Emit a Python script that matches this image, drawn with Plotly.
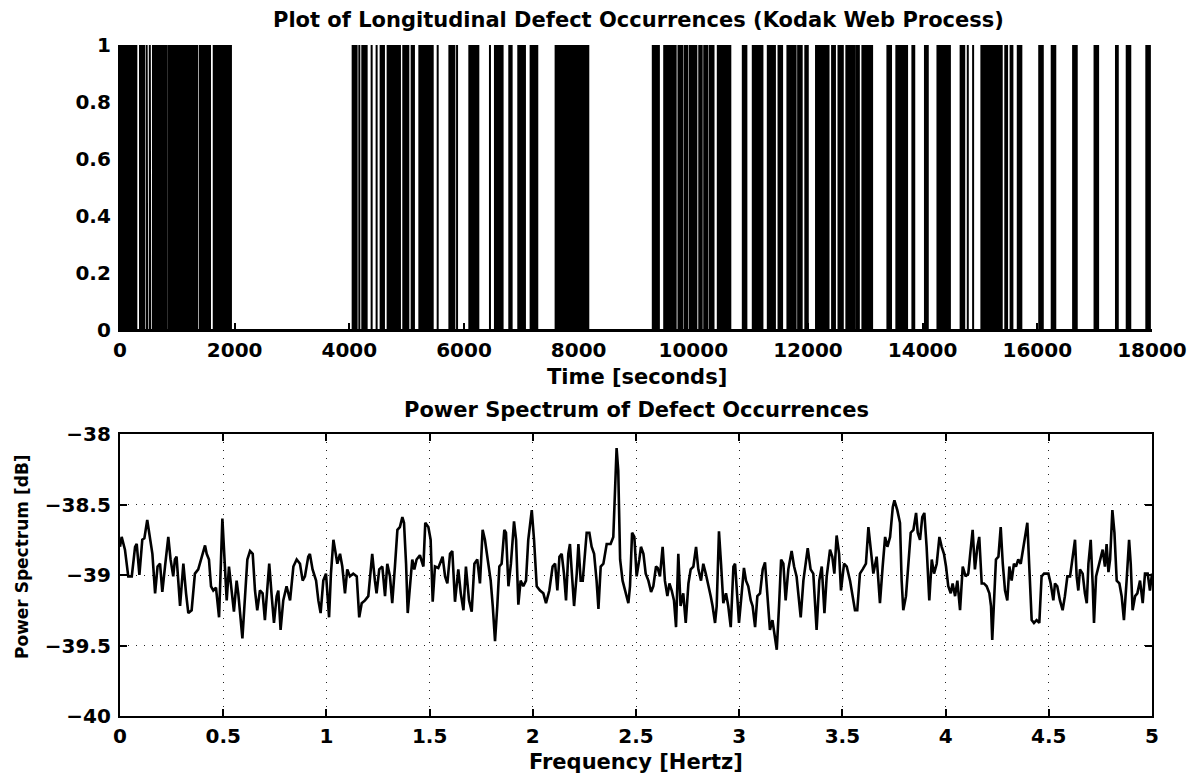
import plotly.graph_objects as go

# ---------------- data: defect occurrence intervals (seconds) ----------------
defect_start = [0, 349, 465, 520, 575, 665, 843, 1025, 1279, 1395, 1635,
                4058, 4127, 4174, 4226, 4389, 4476, 4546, 4668, 4860, 4941, 5087, 5221, 5384, 5541,
                5745, 5879, 6093, 6453, 6540, 6627, 6790, 6947, 7162, 7598, 7700, 7779,
                9293, 9492, 9648, 9741, 9847, 9941, 10009, 10103, 10190, 10283, 10427, 10539,
                10863, 11037, 11143, 11299, 11486, 11641, 11828, 11953, 12140, 12420, 12532,
                12669, 12762, 12843, 12949, 13043, 13385, 13541, 13821, 14040, 14258, 14351,
                14662, 14787, 14880, 15024, 15441, 15534, 15659, 16033, 16251, 16624, 16998,
                17372, 17559, 17901]
defect_end = [285, 420, 475, 528, 640, 805, 1005, 1250, 1349, 1570, 1935,
              4099, 4127, 4174, 4302, 4389, 4476, 4604, 4825, 4883, 5029, 5127, 5355, 5454, 5541,
              5832, 5879, 6250, 6453, 6598, 6673, 6831, 7063, 7278, 7680, 7744, 8168,
              9399, 9617, 9692, 9804, 9897, 9978, 10053, 10146, 10240, 10352, 10520, 10645,
              10925, 11112, 11205, 11423, 11548, 11784, 11890, 11996, 12358, 12470, 12607,
              12731, 12806, 12887, 13012, 13118, 13448, 13728, 13853, 14089, 14320, 14475,
              14725, 14787, 14880, 15379, 15472, 15565, 15721, 16095, 16313, 16687, 17060,
              17403, 17621, 17963]
time_ticks = [0, 2000, 4000, 6000, 8000, 10000, 12000, 14000, 16000, 18000]
occ_ticks = [0, 0.2, 0.4, 0.6, 0.8, 1]
occ_ticktext = ["0", "0.2", "0.4", "0.6", "0.8", "1"]

# ---------------- data: power spectrum ----------------
freq_hz = [0.0, 0.008, 0.024, 0.040, 0.057, 0.073, 0.081, 0.094, 0.108, 0.118, 0.132, 0.145, 0.157,
           0.170, 0.182, 0.194, 0.205, 0.218, 0.234, 0.245, 0.258, 0.266, 0.274, 0.291, 0.307,
           0.320, 0.331, 0.347, 0.363, 0.379, 0.396, 0.412, 0.420, 0.431, 0.441, 0.452, 0.465,
           0.480, 0.496, 0.505, 0.517, 0.528, 0.541, 0.552, 0.565, 0.573, 0.593, 0.606, 0.617,
           0.630, 0.643, 0.654, 0.665, 0.678, 0.691, 0.702, 0.711, 0.723, 0.735, 0.746, 0.759,
           0.767, 0.778, 0.791, 0.807, 0.824, 0.840, 0.856, 0.872, 0.885, 0.896, 0.912, 0.920,
           0.933, 0.950, 0.961, 0.972, 0.985, 0.998, 1.013, 1.022, 1.034, 1.042, 1.053, 1.066,
           1.077, 1.090, 1.101, 1.114, 1.130, 1.147, 1.159, 1.171, 1.187, 1.203, 1.214, 1.222,
           1.235, 1.243, 1.256, 1.271, 1.284, 1.295, 1.308, 1.319, 1.332, 1.344, 1.356, 1.368,
           1.376, 1.386, 1.394, 1.405, 1.416, 1.426, 1.437, 1.453, 1.470, 1.479, 1.494, 1.505,
           1.515, 1.526, 1.542,
           1.563, 1.575, 1.586, 1.599, 1.610, 1.623, 1.639, 1.651, 1.664, 1.676, 1.691, 1.704,
           1.717, 1.731, 1.744, 1.757, 1.768, 1.785, 1.796, 1.806, 1.817, 1.828, 1.838, 1.849,
           1.862, 1.870, 1.882, 1.894, 1.909, 1.919, 1.930, 1.941, 1.954, 1.967, 1.978, 1.995,
           2.006, 2.019, 2.035, 2.051, 2.064, 2.080, 2.096, 2.108, 2.119, 2.129, 2.140, 2.151,
           2.161, 2.172, 2.180, 2.188, 2.200, 2.213, 2.221, 2.232, 2.242, 2.261, 2.274, 2.285,
           2.297, 2.309, 2.318, 2.329, 2.342, 2.358, 2.377, 2.390, 2.398, 2.406, 2.414, 2.423,
           2.435, 2.452, 2.463, 2.471, 2.481, 2.492, 2.503, 2.516, 2.524, 2.536, 2.547, 2.560,
           2.573, 2.584, 2.597, 2.605, 2.616, 2.629, 2.640, 2.652, 2.662, 2.673, 2.684, 2.694,
           2.705, 2.716, 2.729, 2.741, 2.754, 2.765, 2.778, 2.791, 2.802, 2.815, 2.826, 2.838,
           2.850, 2.862, 2.871, 2.883, 2.891, 2.902, 2.912, 2.923, 2.936, 2.947, 2.959, 2.972,
           2.980, 2.991, 2.999, 3.012, 3.023, 3.033, 3.044, 3.056, 3.065, 3.077, 3.088, 3.101,
           3.114, 3.125, 3.136, 3.149, 3.161, 3.170, 3.182, 3.193, 3.203, 3.214, 3.225, 3.238,
           3.254, 3.266, 3.278,
           3.298, 3.311, 3.332, 3.346, 3.359, 3.375, 3.388, 3.400, 3.413, 3.424, 3.440, 3.451,
           3.461, 3.472, 3.484, 3.493, 3.508, 3.521, 3.537, 3.550, 3.561, 3.572, 3.585, 3.598,
           3.614, 3.626, 3.637, 3.650, 3.666, 3.682, 3.695, 3.707, 3.718, 3.731, 3.744, 3.752,
           3.766, 3.779, 3.787, 3.795, 3.808, 3.819, 3.831, 3.844, 3.857, 3.865, 3.876, 3.887,
           3.897, 3.908, 3.921, 3.933, 3.944, 3.957, 3.970, 3.981, 3.992, 4.002, 4.013, 4.025,
           4.034, 4.046, 4.057, 4.070, 4.083, 4.097, 4.110, 4.118, 4.131, 4.142, 4.154, 4.163,
           4.175, 4.186, 4.199, 4.212, 4.220, 4.226, 4.234, 4.244, 4.256, 4.267, 4.277, 4.288,
           4.299, 4.309, 4.320, 4.331, 4.341, 4.352, 4.364, 4.377, 4.388, 4.396, 4.406, 4.417,
           4.428, 4.441, 4.454, 4.465, 4.477, 4.487, 4.498, 4.509, 4.522, 4.530, 4.541, 4.554,
           4.567, 4.578, 4.590, 4.603, 4.616, 4.627, 4.635, 4.643, 4.651, 4.664, 4.675, 4.684,
           4.692, 4.703, 4.713, 4.719, 4.729, 4.740, 4.751, 4.761, 4.772, 4.780, 4.789, 4.797,
           4.808, 4.818, 4.829, 4.842, 4.853, 4.864, 4.877, 4.889, 4.897, 4.906, 4.918, 4.929,
           4.942, 4.955, 4.966, 4.979, 4.990, 5.0]
power_db = [-38.80, -38.73, -38.82, -39.01, -39.01, -38.80, -38.78, -39.00, -38.75, -38.74, -38.61, -38.73, -38.85,
            -39.13, -38.94, -38.92, -39.12, -38.94, -38.73, -38.89, -39.01, -38.89, -38.87, -39.22, -38.92,
            -39.13, -39.27, -39.25, -38.99, -38.96, -38.87, -38.79, -38.85, -38.89, -39.08, -39.11, -39.09,
            -39.30, -38.60, -38.85, -39.18, -38.94, -39.11, -39.26, -39.04, -39.13, -39.45, -39.13, -38.89,
            -38.83, -38.85, -39.11, -39.25, -39.11, -39.13, -39.32, -39.13, -38.92, -39.15, -39.34, -39.15,
            -39.11, -39.39, -39.18, -39.08, -39.18, -38.94, -38.89, -38.92, -39.04, -39.01, -38.87, -38.85,
            -38.96, -39.04, -39.18, -39.27, -39.04, -38.99, -39.30, -38.99, -38.75, -38.82, -38.92, -38.85,
            -38.94, -39.13, -38.96, -39.01, -38.99, -39.01, -39.30, -39.20, -39.18, -39.15, -38.99, -38.85,
            -39.04, -39.13, -38.96, -38.94, -39.15, -38.92, -39.01, -39.20, -38.94, -38.68, -38.66, -38.59,
            -38.63, -38.92, -39.27, -39.08, -38.89, -38.96, -38.89, -38.86, -38.94, -38.63, -38.66, -38.75,
            -39.19, -38.94, -38.95,
            -38.87, -39.01, -39.06, -38.85, -38.83, -39.19, -38.96, -39.13, -39.25, -38.94, -39.18, -39.26,
            -38.92, -38.89, -39.06, -38.68, -38.75, -38.92, -39.04, -39.22, -39.47, -39.22, -38.94, -38.92,
            -38.68, -38.70, -39.08, -38.92, -38.62, -38.75, -39.21, -39.04, -39.08, -39.04, -38.75, -38.54,
            -38.75, -39.08, -39.11, -39.13, -39.20, -39.11, -38.94, -38.92, -39.11, -38.87, -38.85, -38.99,
            -39.18, -38.85, -38.78, -38.96, -39.22, -38.99, -38.78, -39.04, -39.04, -38.70, -38.70, -38.80,
            -38.85, -39.04, -39.24, -38.94, -38.92, -38.78, -38.78, -38.73, -38.44, -38.10, -38.26, -38.89,
            -39.04, -39.15, -39.20, -39.08, -38.70, -38.73, -39.01, -38.89, -38.80, -38.85, -38.99, -39.04,
            -39.12, -39.08, -38.94, -38.95, -39.01, -38.80, -39.04, -39.15, -39.06, -39.11, -39.18, -39.37,
            -38.85, -39.22, -39.13, -39.34, -39.06, -38.96, -38.94, -38.80, -38.96, -39.04, -38.92, -38.99,
            -39.06, -39.15, -39.22, -39.34, -39.22, -38.69, -38.92, -39.20, -39.13, -39.22, -39.37, -38.94,
            -38.92, -39.22, -39.34, -39.13, -38.95, -39.04, -39.08, -39.18, -39.22, -39.37, -39.15, -39.13,
            -38.96, -38.91, -39.13, -39.39, -39.32, -39.41, -39.53, -39.22, -38.89, -38.92, -39.18, -38.96,
            -38.83, -38.94, -39.01,
            -39.30, -39.04, -38.81, -38.96, -38.99, -39.39, -39.04, -38.94, -39.27, -39.01, -38.82, -38.87,
            -38.99, -38.72, -38.85, -39.11, -38.92, -38.94, -39.04, -39.15, -39.25, -39.25, -38.99, -38.96,
            -38.92, -38.66, -38.80, -38.99, -38.87, -39.20, -38.94, -38.73, -38.80, -38.73, -38.52, -38.47,
            -38.54, -38.63, -39.04, -39.25, -39.15, -38.92, -38.70, -38.68, -38.56, -38.70, -38.75, -38.59,
            -38.56, -38.80, -39.18, -38.89, -38.99, -38.92, -38.73, -38.80, -38.85, -38.94, -39.08, -39.13,
            -39.06, -39.15, -39.04, -39.25, -38.94, -39.01, -38.99, -38.87, -38.68, -38.96, -38.80, -38.73,
            -39.06, -39.06, -39.08, -39.13, -39.22, -39.46, -39.18, -38.89, -38.87, -38.66, -38.92, -39.11,
            -39.18, -38.94, -39.04, -38.92, -38.94, -38.89, -38.92, -38.80, -38.70, -38.63, -38.96, -39.32,
            -39.34, -39.32, -39.34, -39.01, -38.99, -38.99, -38.99, -39.06, -39.18, -39.06, -39.08, -39.18,
            -39.25, -39.15, -39.01, -39.01, -38.85, -38.75, -39.01, -39.11, -38.96, -38.99, -39.13, -39.20,
            -38.92, -38.75, -39.08, -39.34, -39.01, -38.94, -38.89, -38.82, -38.94, -38.78, -38.98, -38.89,
            -38.54, -38.70, -39.04, -39.06, -39.15, -39.32, -39.04, -38.75, -38.92, -39.25, -39.15, -39.13,
            -39.04, -39.20, -38.99, -38.99, -39.11, -38.99]
freq_ticks = [0, 0.5, 1, 1.5, 2, 2.5, 3, 3.5, 4, 4.5, 5]
freq_ticktext = ["0", "0.5", "1", "1.5", "2", "2.5", "3", "3.5", "4", "4.5", "5"]
db_ticks = [-40, -39.5, -39, -38.5, -38]
db_ticktext = ["\u221240", "\u221239.5", "\u221239", "\u221238.5", "\u221238"]

# ---------------- build figure ----------------
W, H = 1202, 778
def px(x):
    return x / W
def py(y):
    return 1 - y / H

step_x = [0]
step_y = [0]
for s, e in zip(defect_start, defect_end):
    step_x += [s, s, e, e]
    step_y += [0, 1, 1, 0]
step_x.append(18000)
step_y.append(0)

TICKFONT = dict(family="DejaVu Sans", size=20, color="black", weight="bold")
TITLEFONT = dict(family="DejaVu Sans", size=21, color="black", weight="bold")
YLABFONT = dict(family="DejaVu Sans", size=17, color="black", weight="bold")

fig = go.Figure()
fig.add_trace(go.Scatter(x=step_x, y=step_y, mode="lines", fill="tozeroy",
                         fillcolor="black", line=dict(color="black", width=2),
                         xaxis="x", yaxis="y", showlegend=False, hoverinfo="skip"))
fig.add_trace(go.Scatter(x=freq_hz, y=power_db, mode="lines",
                         line=dict(color="black", width=2.6),
                         xaxis="x2", yaxis="y2", showlegend=False))

xdom = [px(120), px(1152)]
common = dict(showline=True, linecolor="black", linewidth=2.2, ticks="inside",
              tickcolor="black", tickwidth=2, ticklen=7, zeroline=False,
              tickfont=TICKFONT, automargin=False)

fig.update_layout(
    width=W, height=H,
    margin=dict(l=0, r=0, t=0, b=0, pad=0, autoexpand=False),
    paper_bgcolor="white", plot_bgcolor="white", showlegend=False,
    xaxis=dict(domain=xdom, range=[0, 18000], tickvals=time_ticks,
               ticktext=[str(t) for t in time_ticks], showgrid=False,
               anchor="y", mirror=False, ticklabelstandoff=1, **common),
    yaxis=dict(domain=[py(330), py(45)], range=[0, 1], tickvals=occ_ticks,
               ticktext=occ_ticktext, showgrid=False, anchor="x",
               mirror=False, ticklabelstandoff=3, **common),
    xaxis2=dict(domain=xdom, range=[0, 5], tickvals=freq_ticks,
                ticktext=freq_ticktext, showgrid=True, gridcolor="#222",
                gridwidth=1, griddash="1px,7px", anchor="y2", mirror="ticks",
                ticklabelstandoff=1, **common),
    yaxis2=dict(domain=[py(716), py(434)], range=[-40, -38], tickvals=db_ticks,
                ticktext=db_ticktext, showgrid=True, gridcolor="#222",
                gridwidth=1, griddash="1px,7px", anchor="x2", mirror="ticks",
                ticklabelstandoff=3, **common),
)

ann = [
    ("Plot of Longitudinal Defect Occurrences (Kodak Web Process)", 638, 20, 0, TITLEFONT),
    ("Time [seconds]", 637, 377, 0, TITLEFONT),
    ("Power Spectrum of Defect Occurrences", 636, 410, 0, TITLEFONT),
    ("Frequency [Hertz]", 636, 762, 0, TITLEFONT),
    ("Power Spectrum [dB]", 22, 557, -90, YLABFONT),
]
for text, x, y, ang, f in ann:
    fig.add_annotation(text=text, xref="paper", yref="paper", x=px(x), y=py(y),
                       xanchor="center", yanchor="middle", showarrow=False,
                       textangle=ang, font=f)

fig.write_html("out.html")
